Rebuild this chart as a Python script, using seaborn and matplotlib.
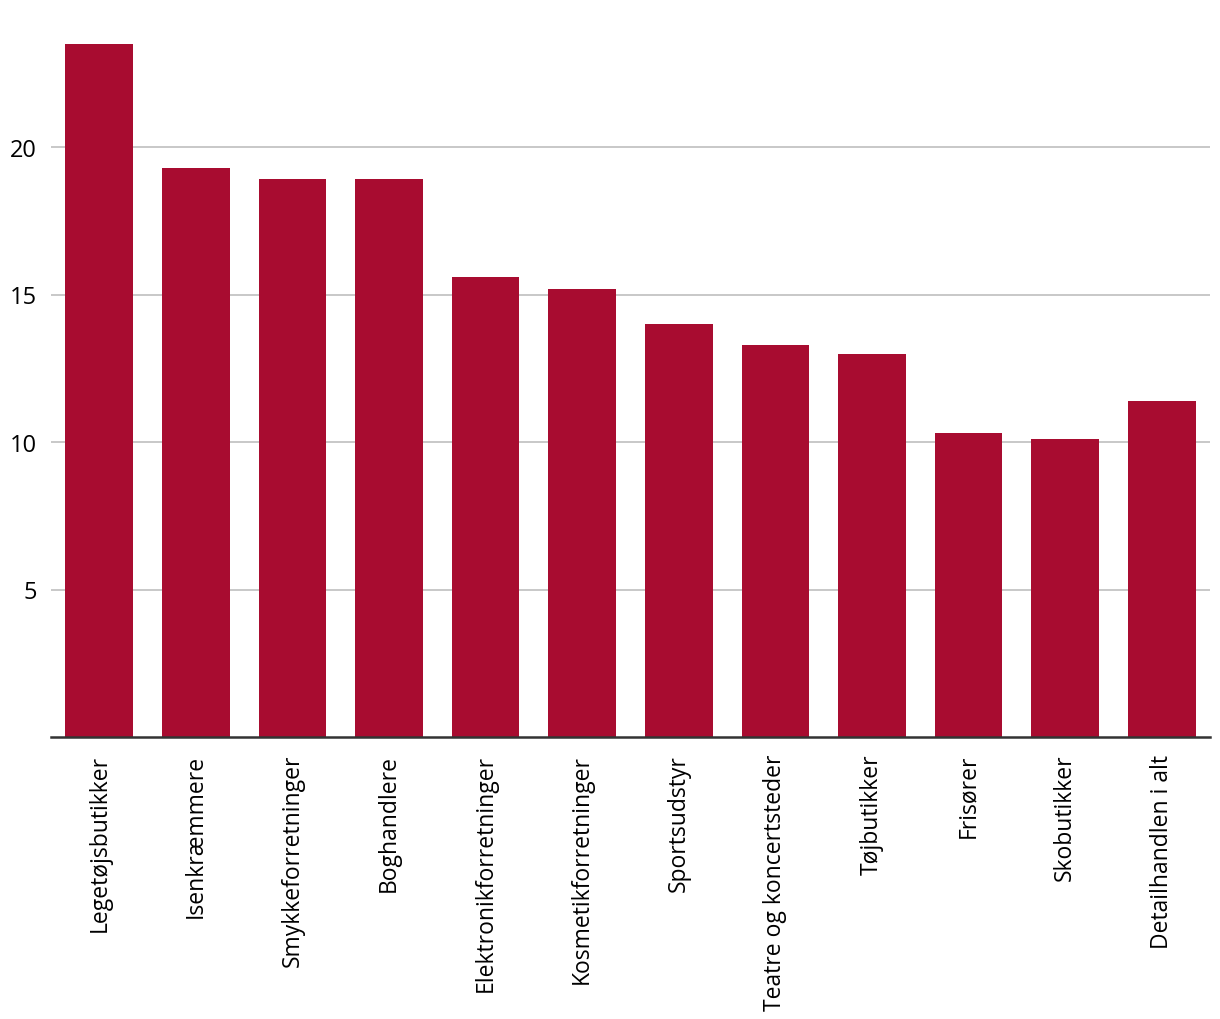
import matplotlib
matplotlib.use('Agg')
import matplotlib.pyplot as plt
import seaborn as sns
import pandas as pd

# Dados
kategorier = ['Legetøjsbutikker', 'Isenkræmmere', 'Smykkeforretninger', 'Boghandlere',
              'Elektronikforretninger', 'Kosmetikforretninger', 'Sportsudstyr',
              'Teatre og koncertsteder', 'Tøjbutikker', 'Frisører', 'Skobutikker',
              'Detailhandlen i alt']
vaerdier = [23.5, 19.3, 18.9, 18.9, 15.6, 15.2, 14.0, 13.3, 13.0, 10.3, 10.1, 11.4]
y_ticks = [5, 10, 15, 20]

df = pd.DataFrame({'kategori': kategorier, 'vaerdi': vaerdier})

sns.set_style('white')
plt.rcParams['font.family'] = ['Open Sans', 'DejaVu Sans']

fig = plt.figure(figsize=(12.2, 10.2), dpi=100)
ax = fig.add_axes([51 / 1220, 1 - 738 / 1020, 1159 / 1220, 708 / 1020])

sns.barplot(data=df, x='kategori', y='vaerdi', color='#A80C30', saturation=1,
            width=0.7, linewidth=0, ax=ax, zorder=2)

ax.set_ylim(0, 24)
ax.set_xlim(-0.5, len(kategorier) - 0.5)
ax.set_yticks(y_ticks)
ax.set_yticklabels([str(t) for t in y_ticks], fontsize=17, color='black')
ax.yaxis.grid(True, color='#c4c4c4', linewidth=1.3, zorder=0)
ax.set_axisbelow(True)
ax.tick_params(axis='x', length=0, pad=12)
ax.tick_params(axis='y', length=0, pad=10)
plt.setp(ax.get_xticklabels(), rotation=90, fontsize=16.5, color='black')

for side in ['top', 'right', 'left']:
    ax.spines[side].set_visible(False)
ax.spines['bottom'].set_color('#333333')
ax.spines['bottom'].set_linewidth(1.8)

ax.set_xlabel('')
ax.set_ylabel('')

plt.savefig('out.png', dpi=100)
